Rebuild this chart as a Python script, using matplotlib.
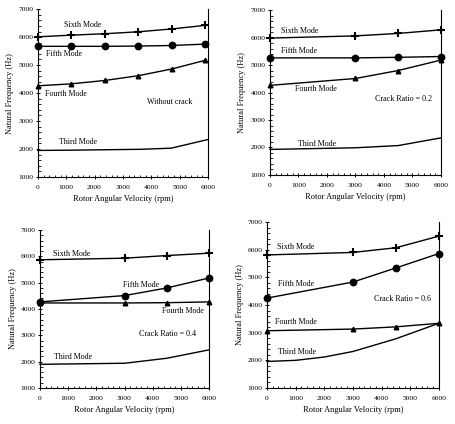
import matplotlib
matplotlib.use('Agg')
import matplotlib.pyplot as plt
from matplotlib.ticker import MultipleLocator

plt.rcParams['font.family'] = ['Liberation Serif', 'DejaVu Serif']

# panel 1: without crack
rpm_a = [0, 1180, 2360, 3540, 4720, 5900]
sixth_a = [6010, 6070, 6120, 6190, 6290, 6420]
fifth_a = [5670, 5670, 5670, 5680, 5700, 5750]
fourth_a = [4260, 4330, 4450, 4620, 4860, 5170]
third_rpm_a = [0, 1200, 2400, 3600, 4700, 6000]
third_a = [1950, 1960, 1975, 1990, 2030, 2340]

# panel 2: crack ratio 0.2
rpm_b = [0, 3000, 4500, 6000]
sixth_b = [5980, 6060, 6150, 6280]
fifth_b = [5260, 5260, 5280, 5310]
fourth_b = [4260, 4510, 4800, 5180]
third_rpm_b = [0, 3000, 4500, 6000]
third_b = [1930, 1990, 2070, 2350]

# panel 3: crack ratio 0.4
rpm_c = [0, 3000, 4500, 6000]
sixth_c = [5870, 5930, 6030, 6120]
fifth_c = [4270, 4510, 4800, 5180]
fourth_c = [4230, 4230, 4240, 4270]
third_rpm_c = [0, 3000, 4500, 6000]
third_c = [1900, 1940, 2130, 2450]

# panel 4: crack ratio 0.6
rpm_d = [0, 3000, 4500, 6000]
sixth_d = [5810, 5900, 6070, 6490]
fifth_d = [4250, 4830, 5340, 5860]
fourth_d = [3070, 3130, 3210, 3340]
third_rpm_d = [0, 1000, 2000, 3000, 4500, 6000]
third_d = [1960, 2000, 2120, 2320, 2780, 3340]

mode_names = ['Sixth Mode', 'Fifth Mode', 'Fourth Mode', 'Third Mode']

panels = [
    dict(rect=[0.083, 0.5825, 0.373, 0.396], rpm=rpm_a, six=sixth_a, five=fifth_a, four=fourth_a,
         trpm=third_rpm_a, three=third_a, note='Without crack', note_xy=(3860, 3690),
         lab_xy=[(920, 6420), (290, 5390), (250, 3980), (740, 2260)]),
    dict(rect=[0.592, 0.5873, 0.375, 0.389], rpm=rpm_b, six=sixth_b, five=fifth_b, four=fourth_b,
         trpm=third_rpm_b, three=third_b, note='Crack Ratio = 0.2', note_xy=(3690, 3760),
         lab_xy=[(375, 6250), (375, 5510), (870, 4140), (985, 2130)]),
    dict(rect=[0.0877, 0.0849, 0.371, 0.3726], rpm=rpm_c, six=sixth_c, five=fifth_c, four=fourth_c,
         trpm=third_rpm_c, three=third_c, note='Crack Ratio = 0.4', note_xy=(3520, 3060),
         lab_xy=[(470, 6085), (2950, 4900), (4330, 3925), (510, 2160)]),
    dict(rect=[0.5855, 0.0849, 0.377, 0.3915], rpm=rpm_d, six=sixth_d, five=fifth_d, four=fourth_d,
         trpm=third_rpm_d, three=third_d, note='Crack Ratio = 0.6', note_xy=(3730, 4205),
         lab_xy=[(340, 6110), (375, 4760), (290, 3370), (375, 2300)]),
]

fig = plt.figure(figsize=(4.56, 4.24), dpi=100)

for p in panels:
    ax = fig.add_axes(p['rect'])
    lw = 1.0
    ax.plot(p['rpm'], p['six'], color='black', lw=lw, marker='+', ms=5.5, mew=1.5, clip_on=False)
    ax.plot(p['rpm'], p['five'], color='black', lw=lw, marker='o', ms=4.6, clip_on=False)
    ax.plot(p['rpm'], p['four'], color='black', lw=lw, marker='^', ms=3.3, clip_on=False)
    ax.plot(p['trpm'], p['three'], color='black', lw=lw, clip_on=False)

    for name, (tx, ty) in zip(mode_names, p['lab_xy']):
        ax.text(tx, ty, name, fontsize=5.8, ha='left', va='center')
    ax.text(p['note_xy'][0], p['note_xy'][1], p['note'], fontsize=5.8, ha='left', va='center')

    ax.set_xlim(0, 6000)
    ax.set_ylim(1000, 7000)
    ax.xaxis.set_major_locator(MultipleLocator(1000))
    ax.xaxis.set_minor_locator(MultipleLocator(200))
    ax.yaxis.set_major_locator(MultipleLocator(1000))
    ax.yaxis.set_minor_locator(MultipleLocator(200))
    ax.tick_params(which='major', direction='inout', length=3, width=0.7, labelsize=5.4)
    ax.tick_params(axis='x', which='major', pad=4)
    ax.tick_params(axis='y', which='major', pad=1.5)
    ax.tick_params(which='minor', direction='in', length=1.8, width=0.6)
    ax.spines['top'].set_visible(False)
    for s in ['left', 'bottom', 'right']:
        ax.spines[s].set_linewidth(0.8)
    ax.set_xlabel('Rotor Angular Velocity (rpm)', fontsize=6, labelpad=4)
    ax.set_ylabel('Natural Frequency (Hz)', fontsize=6, labelpad=3)

fig.savefig('out.png', dpi=100)
